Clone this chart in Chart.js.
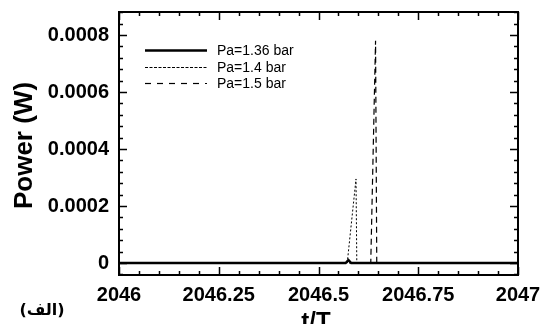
<!DOCTYPE html>
<html lang="en">
<head>
<meta charset="UTF-8">
<title>Power vs t/T</title>
<script src="https://cdn.jsdelivr.net/npm/chart.js"></script>
<style>
  html, body { margin: 0; padding: 0; background: #fff; }
  #wrap { width: 544px; height: 324px; position: relative; }
</style>
</head>
<body>
<div id="wrap"><canvas id="myChart" width="544" height="324"></canvas></div>
<script>
// series data
const seriesLabels = ['Pa=1.36 bar', 'Pa=1.4 bar', 'Pa=1.5 bar'];
const tPa136 = [2046, 2046.568, 2046.575, 2046.582, 2047];
const powerPa136 = [0, 0, 0.00001, 0, 0];
const tPa14 = [2046, 2046.572, 2046.594, 2046.596, 2047];
const powerPa14 = [0, 0, 0.000295, 0, 0];
const tPa15 = [2046, 2046.631, 2046.643, 2046.646, 2047];
const powerPa15 = [0, 0, 0.00078, 0, 0];

// axes
const xMajorTicks = [2046, 2046.25, 2046.5, 2046.75, 2047];
const xTickLabels = ['2046', '2046.25', '2046.5', '2046.75', '2047'];
const yMajorTicks = [0, 0.0002, 0.0004, 0.0006, 0.0008];
const yTickLabels = ['0', '0.0002', '0.0004', '0.0006', '0.0008'];
const xTitle = 't/T';
const yTitle = 'Power (W)';
const panelTag = '(الف)';

function pts(xs, ys) {
    return xs.map((x, i) => ({ x: x, y: ys[i] }));
}

const font = '"Liberation Sans", Arial, sans-serif';

const framePlugin = {
    id: 'frame',
    afterDraw(chart) {
        const ctx = chart.ctx;
        const a = chart.chartArea;
        const xs = chart.scales.x, ys = chart.scales.y;
        ctx.save();
        ctx.strokeStyle = '#000';
        ctx.lineWidth = 2;
        ctx.strokeRect(a.left, a.top, a.right - a.left, a.bottom - a.top);

        // inward ticks on all four sides
        ctx.lineWidth = 1.5;
        ctx.beginPath();
        for (let i = 0; i <= 20; i++) {
            const v = 2046 + i * 0.05;
            const major = i % 5 === 0;
            const len = major ? 8 : 4;
            const px = Math.round(xs.getPixelForValue(v)) + 0.5;
            ctx.moveTo(px, a.bottom); ctx.lineTo(px, a.bottom - len);
            ctx.moveTo(px, a.top); ctx.lineTo(px, a.top + len);
        }
        for (let i = -1; i <= 22; i++) {
            const v = i * 0.00004;
            const major = i % 5 === 0;
            const len = major ? 8 : 4;
            const py = Math.round(ys.getPixelForValue(v)) + 0.5;
            if (py < a.top || py > a.bottom) continue;
            ctx.moveTo(a.left, py); ctx.lineTo(a.left + len, py);
            ctx.moveTo(a.right, py); ctx.lineTo(a.right - len, py);
        }
        ctx.stroke();

        // legend inside plot
        const legY = [50, 67, 83];
        const sampleDash = [[], [3, 1.5], [6, 6]];
        const sampleWidth = [2.5, 1, 1.2];
        chart.data.datasets.forEach((ds, i) => {
            ctx.beginPath();
            ctx.setLineDash(sampleDash[i]);
            ctx.lineWidth = sampleWidth[i];
            ctx.moveTo(145, legY[i] + 0.5);
            ctx.lineTo(207, legY[i] + 0.5);
            ctx.stroke();
            ctx.setLineDash([]);
            ctx.fillStyle = '#000';
            ctx.font = '14px ' + font;
            ctx.textAlign = 'left';
            ctx.textBaseline = 'middle';
            ctx.fillText(ds.label, 217, legY[i] + 1);
        });

        // axis titles
        ctx.fillStyle = '#000';
        ctx.font = 'bold 24px ' + font;
        ctx.textAlign = 'center';
        ctx.textBaseline = 'alphabetic';
        ctx.fillText(xTitle, 316, 329);

        ctx.save();
        ctx.translate(32, (a.top + a.bottom) / 2 + 2);
        ctx.rotate(-Math.PI / 2);
        ctx.font = 'bold 26px ' + font;
        ctx.fillText(yTitle, 0, 0);
        ctx.restore();

        ctx.font = 'bold 16px "DejaVu Sans", ' + font;
        ctx.textAlign = 'center';
        ctx.fillText(panelTag, 42, 315);
        ctx.restore();
    }
};

const config = {
    type: 'line',
    data: {
        datasets: [
            {
                label: seriesLabels[0],
                data: pts(tPa136, powerPa136),
                borderColor: '#000',
                borderWidth: 2.5,
                pointRadius: 0,
                tension: 0
            },
            {
                label: seriesLabels[1],
                data: pts(tPa14, powerPa14),
                borderColor: '#000',
                borderWidth: 1,
                borderDash: [2, 2],
                pointRadius: 0,
                tension: 0
            },
            {
                label: seriesLabels[2],
                data: pts(tPa15, powerPa15),
                borderColor: '#000',
                borderWidth: 1.2,
                borderDash: [6, 4],
                pointRadius: 0,
                tension: 0
            }
        ]
    },
    options: {
        responsive: false,
        animation: false,
        layout: { padding: { top: 12, right: 26, left: 0, bottom: 0 } },
        plugins: { legend: { display: false }, tooltip: { enabled: false } },
        scales: {
            x: {
                type: 'linear',
                min: 2046,
                max: 2047,
                grid: { display: false },
                border: { display: false },
                afterBuildTicks: s => { s.ticks = xMajorTicks.map(v => ({ value: v })); },
                afterFit: s => { s.height = 49; s.paddingLeft = 0; s.paddingRight = 0; },
                ticks: {
                    padding: 0,
                    maxRotation: 0,
                    color: '#000',
                    font: { family: font, size: 20, weight: 'bold' },
                    callback: (v) => xTickLabels[xMajorTicks.indexOf(v)]
                }
            },
            y: {
                type: 'linear',
                min: -0.0000421,
                max: 0.000881,
                grid: { display: false },
                border: { display: false },
                afterBuildTicks: s => { s.ticks = yMajorTicks.map(v => ({ value: v })); },
                afterFit: s => { s.width = 119; s.paddingTop = 0; s.paddingBottom = 0; },
                ticks: {
                    padding: 2,
                    color: '#000',
                    font: { family: font, size: 20, weight: 'bold' },
                    callback: (v) => yTickLabels[yMajorTicks.indexOf(v)]
                }
            }
        }
    },
    plugins: [framePlugin]
};

new Chart(document.getElementById('myChart').getContext('2d'), config);
</script>
</body>
</html>
